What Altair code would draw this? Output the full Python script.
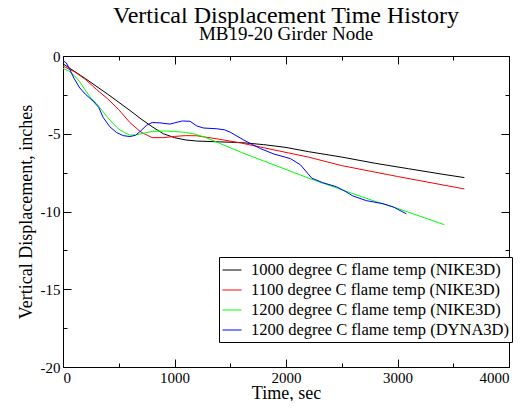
import altair as alt
import pandas as pd

# ---- data ----
series_names = [
    "1000 degree C flame temp (NIKE3D)",
    "1100 degree C flame temp (NIKE3D)",
    "1200 degree C flame temp (NIKE3D)",
    "1200 degree C flame temp (DYNA3D)",
]
series_colors = ["#000000", "#ff0000", "#00ff00", "#0000ff"]

t_1000 = [0, 200, 400, 600, 700, 800, 900, 1000, 1100, 1200, 1400, 1600, 1800,
          2000, 2200, 2500, 2800, 3100, 3400, 3600]
v_1000 = [-0.5, -1.45, -2.45, -3.5, -4.05, -4.55, -5.0, -5.25, -5.4, -5.47, -5.52,
          -5.57, -5.7, -5.88, -6.15, -6.5, -6.9, -7.25, -7.6, -7.82]

t_1100 = [0, 100, 200, 300, 400, 500, 600, 700, 800, 900, 1000, 1100, 1200, 1400,
          1600, 1800, 2000, 2200, 2500, 3000, 3600]
v_1100 = [-0.65, -1.0, -1.5, -2.15, -2.75, -3.45, -4.28, -4.9, -5.25, -5.25, -5.17,
          -5.12, -5.13, -5.35, -5.6, -5.9, -6.2, -6.5, -7.05, -7.75, -8.55]

t_1200n = [0, 50, 100, 150, 200, 250, 300, 350, 400, 450, 500, 550, 600, 650, 700,
           800, 900, 1000, 1100, 1200, 1300, 1400, 1600, 1800, 2000, 2200, 2400,
           2600, 2800, 3000, 3200, 3420]
v_1200n = [-0.8, -0.95, -1.25, -1.65, -2.2, -2.7, -3.05, -3.5, -3.95, -4.35, -4.7,
           -4.92, -5.08, -5.08, -5.0, -4.85, -4.82, -4.85, -4.92, -5.05, -5.3, -5.6,
           -6.2, -6.75, -7.3, -7.85, -8.35, -8.85, -9.35, -9.8, -10.3, -10.85]

t_1200d = [0, 30, 60, 100, 150, 200, 270, 320, 360, 420, 480, 540, 600, 650, 700,
           750, 800, 870, 960, 1000, 1070, 1140, 1200, 1260, 1380, 1450, 1500, 1560,
           1620, 1700, 1770, 1890, 2040, 2130, 2230, 2330, 2450, 2530, 2600, 2720,
           2870, 2960, 3080]
v_1200d = [-0.3, -0.45, -0.85, -1.45, -2.05, -2.45, -2.9, -3.3, -3.95, -4.55, -4.92,
           -5.12, -5.18, -5.1, -4.8, -4.45, -4.28, -4.3, -4.38, -4.3, -4.18, -4.2,
           -4.5, -4.63, -4.68, -4.75, -4.9, -5.15, -5.4, -5.7, -5.95, -6.3, -6.6,
           -7.0, -7.85, -8.15, -8.4, -8.7, -9.0, -9.3, -9.5, -9.7, -10.15]

x_major = [0, 1000, 2000, 3000, 4000]
x_minor = [500, 1500, 2500, 3500]
y_major = [-20, -15, -10, -5, 0]
y_minor = [-17.5, -12.5, -7.5, -2.5]

# ---- build table ----
rows = []
for name, ts, vs in zip(series_names, [t_1000, t_1100, t_1200n, t_1200d],
                        [v_1000, v_1100, v_1200n, v_1200d]):
    for t, v in zip(ts, vs):
        rows.append({"series": name, "t": t, "v": v})
df = pd.DataFrame(rows)

FONT = "Liberation Serif"
MAJ = 8
MIN = 4
TXT = dict(labelFont=FONT, labelFontSize=15, labelColor="black",
           titleFont=FONT, titleFontSize=18, titleColor="black",
           titleFontWeight="normal", tickColor="black", tickWidth=1)


def xs():
    return alt.Scale(domain=[0, 4000], nice=False, zero=False)


def ys():
    return alt.Scale(domain=[-20, 0], nice=False, zero=False)


main = alt.Chart(df).mark_line(strokeWidth=1, clip=True).encode(
    x=alt.X("t:Q", scale=xs(), axis=alt.Axis(
        orient="bottom", values=x_major, tickSize=MAJ, offset=-MAJ, domain=False,
        grid=False, labelPadding=3, labelExpr="datum.value + ''",
        title="Time, sec", titleBaseline="alphabetic", titleY=39, **TXT)),
    y=alt.Y("v:Q", scale=ys(), axis=alt.Axis(
        orient="left", values=y_major, tickSize=MAJ, offset=-MAJ, domain=False,
        grid=False, labelPadding=3, labelExpr="datum.value + ''",
        title="Vertical Displacement, inches", titlePadding=5, **TXT)),
    color=alt.Color("series:N", sort=series_names,
                    scale=alt.Scale(domain=series_names, range=series_colors),
                    legend=alt.Legend(
                        title=None, orient="none", legendX=156, legendY=201,
                        strokeColor="black", fillColor="white", padding=3,
                        labelFont=FONT, labelFontSize=16.5, labelColor="black",
                        labelLimit=400, symbolType="stroke", symbolSize=361,
                        symbolStrokeWidth=1, labelOffset=9, rowPadding=1,
                        cornerRadius=0)),
)


def tick_layer(xvals, yvals, xorient, yorient, size):
    return alt.Chart(df).mark_line(opacity=0).encode(
        x=alt.X("t:Q", scale=xs(), axis=alt.Axis(
            orient=xorient, values=xvals, tickSize=size, offset=-size,
            labels=False, domain=False, grid=False, title=None,
            tickColor="black", tickWidth=1)),
        y=alt.Y("v:Q", scale=ys(), axis=alt.Axis(
            orient=yorient, values=yvals, tickSize=size, offset=-size,
            labels=False, domain=False, grid=False, title=None,
            tickColor="black", tickWidth=1)),
        detail="series:N",
    )


chart = alt.layer(
    main,
    tick_layer(x_minor, y_minor, "bottom", "left", MIN),
    tick_layer(x_major, y_major, "top", "right", MAJ),
    tick_layer(x_minor, y_minor, "top", "right", MIN),
).resolve_axis(x="independent", y="independent").properties(
    width=446, height=311,
    background="white",
    autosize=alt.AutoSizeParams(type="none"),
    padding={"left": 55, "top": 48, "right": 12, "bottom": 34},
    title=alt.TitleParams(
        text="Vertical Displacement Time History",
        subtitle="MB19-20 Girder Node",
        font=FONT, fontSize=24, fontWeight="normal", color="black",
        subtitleFont=FONT, subtitleFontSize=19, subtitleColor="black",
        anchor="middle", offset=5, subtitlePadding=-3),
).configure_view(stroke="black", strokeWidth=1)

chart.save("out.html", embed_options={"renderer": "svg", "actions": False})
